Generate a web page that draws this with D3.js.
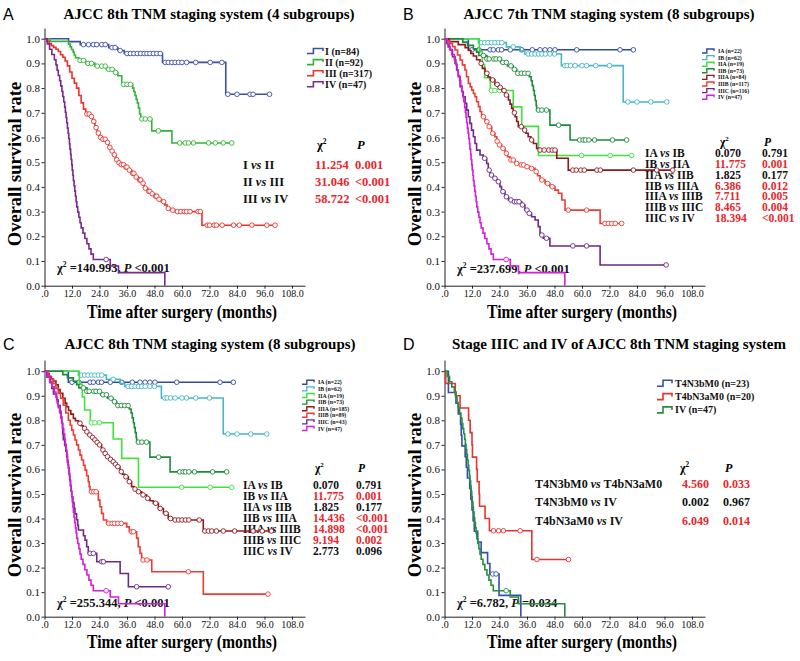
<!DOCTYPE html>
<html><head><meta charset="utf-8">
<script src="https://cdn.jsdelivr.net/npm/d3@7"></script>
<style>body{margin:0;background:#fff}</style></head>
<body><svg id="c" width="800" height="661"></svg>
<script>
// ---------------- DATA ----------------
const xTicks = [0,12,24,36,48,60,72,84,96,108];
const yTicks = [0,0.1,0.2,0.3,0.4,0.5,0.6,0.7,0.8,0.9,1.0];

// Panel A (AJCC 8th, 4 subgroups)
const stageI_steps = [[0,1],[10.5,0.988],[15.6,0.976],[28,0.964],[32,0.952],[34.8,0.94],[51.5,0.904],[79.1,0.775]];
const stageI_cens = [17,19.2,21.3,22.8,25,26.5,29.5,30.8,33,36,37.5,39,40.5,42,43.5,44.7,46,47.5,49,50.5,52.7,54,55.6,57,58.5,60,62,66,72.3,77.4,80,84,89.7,91,98.2];
const stageII_steps = [[0,1],[2.5,0.989],[10.5,0.978],[11.2,0.967],[11.8,0.956],[12.5,0.945],[13,0.934],[13.5,0.923],[15,0.912],[18,0.9],[22,0.889],[27,0.876],[30.5,0.863],[32,0.85],[33.7,0.815],[38.5,0.8],[39,0.785],[39.5,0.77],[40,0.755],[40.5,0.74],[41,0.72],[41.5,0.695],[42,0.675],[46.8,0.627],[55.6,0.578]];
const stageII_cens = [15.5,17,19,20.5,23,25,26.5,28,29.5,31,34.5,36,37.5,42.5,44,46,49.7,59,61.4,62.8,65,71.6,74.5,78,81.7];
const stageIII_steps = [[0,1],[1,0.99],[2,0.98],[3,0.972],[4,0.965],[5,0.957],[6,0.948],[7,0.935],[8,0.925],[9,0.91],[10,0.89],[11,0.865],[12,0.84],[13,0.82],[14,0.8],[15,0.77],[16,0.74],[17,0.715],[18,0.695],[20,0.685],[21,0.665],[22,0.64],[23,0.618],[24,0.6],[25,0.593],[27,0.58],[28,0.56],[29,0.545],[30,0.53],[31,0.51],[32,0.498],[33,0.49],[35,0.48],[36.5,0.468],[38,0.455],[39.5,0.44],[41,0.428],[42.5,0.415],[43.5,0.395],[45,0.382],[46.5,0.372],[48,0.362],[49.5,0.35],[51,0.34],[52.5,0.327],[53.5,0.313],[55,0.306],[57,0.3],[68.7,0.245]];
const stageIII_cens = [18.5,19.5,20.5,21.5,22.5,23.5,24.5,25.5,26.5,27.5,28.5,29.5,30.5,31.5,32.5,33.5,34.5,35.5,36,37,38.5,39,40,41.5,42,43,44,45.5,46,47,48.5,49,50,52,54,56,58,59.5,61,62,63.5,67,68,71,72,74,75,77.5,82.5,85,90.5,97,100.6];
const stageIV_steps = [[0,1],[1.2,0.979],[2.2,0.957],[3.2,0.936],[4.3,0.915],[5,0.894],[5.5,0.872],[6,0.851],[6.6,0.83],[7.1,0.809],[7.6,0.787],[8,0.766],[8.4,0.745],[8.8,0.723],[9.1,0.702],[9.4,0.681],[9.7,0.66],[10,0.638],[10.3,0.617],[10.6,0.596],[10.9,0.574],[11.1,0.553],[11.4,0.532],[11.6,0.511],[11.9,0.489],[12.1,0.468],[12.4,0.447],[12.6,0.426],[12.9,0.404],[13.2,0.383],[13.5,0.362],[13.8,0.34],[14.1,0.319],[14.5,0.298],[15,0.277],[15.5,0.255],[16,0.234],[16.8,0.213],[17.6,0.191],[18.5,0.17],[19.4,0.149],[20.3,0.128],[21.3,0.106],[28.7,0.08],[32.3,0.053],[52.5,0]];
const stageIV_cens = [26.9];

// Panels B/C shared subgroups
const stageIA_steps = [[0,1],[10.4,0.955]];
const stageIA_cens = [12,15,19.9,21.3,23.5,24.9,28.7,33.7,38.3,41.7,43.9,46,48.2,57.7,76.6,82.4];
const stageIB_steps = [[0,1],[14.8,0.984],[27,0.967],[33,0.95],[35,0.938],[51,0.891],[78,0.744]];
const stageIB_cens = [16,17.5,19,20.5,22,23.5,25,30,36.5,38,39.5,41,42.5,44,46,48,52.5,53.5,55,57,60,62,66,72,80,84,90,97];
const stageIIA_steps = [[0,1],[15.2,0.947],[16.5,0.895],[17.5,0.842],[20,0.79],[30,0.724],[33.7,0.645],[41,0.527]];
const stageIIA_cens = [20.5,22,24,59.8,72.3,81.7];
const stageIIB_steps = [[0,1],[8,0.986],[10,0.973],[12.6,0.959],[14,0.945],[15,0.932],[18.5,0.918],[24.5,0.904],[27.5,0.89],[30,0.876],[31.5,0.86],[37,0.846],[37.8,0.83],[38.3,0.81],[38.8,0.79],[39.2,0.77],[39.6,0.75],[40,0.73],[40.2,0.711],[46,0.65],[54.8,0.59]];
const stageIIB_cens = [17,18.5,19.5,21.5,22.5,24,25.5,27,29,30.5,32,33.5,35,36.5,41,42.5,44.5,49.8,59,60.5,61.5,63,65.5,73.3,79.5];

// Panel B (AJCC 7th) stage III
const b7IIIA_steps = [[0,1],[2,0.988],[6,0.976],[9,0.964],[10.5,0.952],[11.5,0.94],[12.6,0.93],[14,0.915],[15.5,0.9],[16.5,0.88],[17.7,0.86],[19,0.845],[20,0.833],[22,0.815],[23.5,0.803],[25,0.79],[26.4,0.772],[27.9,0.752],[28.6,0.735],[29.3,0.718],[30,0.7],[30.8,0.684],[31.5,0.665],[32.2,0.644],[34.4,0.63],[35.5,0.617],[36.5,0.603],[37.7,0.59],[38.8,0.576],[40.2,0.556],[41.5,0.549],[49,0.516],[54,0.468]];
const b7IIIA_cens = [16,18.5,21,23,24.3,26,27,30.5,33.5,35,38,41.7,43.5,45.5,47,48.2,56,57.5,59.5,61,66.5,68,82.4,92.6,99.6];
const b7IIIB_steps = [[0,1],[1,0.99],[2.4,0.981],[3.5,0.968],[4.6,0.954],[5.7,0.934],[6.8,0.914],[7.8,0.894],[8.9,0.873],[9.6,0.846],[10.4,0.819],[11.2,0.805],[11.9,0.792],[12.6,0.778],[13.3,0.765],[14,0.745],[14.8,0.725],[15.5,0.705],[16.2,0.684],[17.7,0.664],[19.1,0.644],[20.6,0.617],[22,0.603],[22.8,0.585],[23.5,0.57],[24.9,0.556],[26.4,0.536],[27.5,0.522],[28.6,0.509],[30.8,0.495],[32.9,0.489],[35.1,0.482],[37.3,0.475],[39.5,0.462],[40.6,0.445],[41.7,0.428],[43.9,0.414],[46,0.401],[48.2,0.387],[49.7,0.374],[51.2,0.347],[52.6,0.306],[67.9,0.252]];
const b7IIIB_cens = [17,18.5,19.5,21,23,24,25.5,27,29,30,31.5,33.5,34.5,36,38,40,42.5,45,47,54,62,70,71.5,73,74.5,77.3];
const b7IIIC_steps = [[0,1],[0.9,0.981],[1.6,0.967],[2.4,0.954],[3.5,0.927],[4.6,0.9],[5.3,0.873],[6,0.846],[6.8,0.806],[7.5,0.785],[8.2,0.765],[9,0.738],[9.7,0.711],[10.4,0.684],[11.1,0.657],[11.8,0.63],[12.6,0.603],[13.3,0.576],[14,0.549],[15.5,0.529],[16.9,0.516],[18.4,0.495],[19.1,0.468],[19.9,0.448],[21.3,0.435],[22.8,0.421],[24.2,0.401],[24.9,0.381],[26.4,0.36],[27.9,0.347],[30,0.34],[33.7,0.327],[35.1,0.306],[36.6,0.293],[38,0.279],[39.5,0.266],[40.9,0.239],[41.7,0.205],[43.1,0.192],[46,0.161],[67.9,0.084]];
const b7IIIC_cens = [17.5,19.5,20.5,22,23.5,25.5,27,29,30.5,31.5,32.5,34,36,37,42.5,44.5,56,62,96.7];

// Panel C (AJCC 8th, 8 subgroups) stage III
const c8IIIA_steps = [[0,1],[1,0.99],[2,0.978],[3,0.968],[3.9,0.96],[5,0.945],[6,0.925],[6.8,0.91],[8,0.89],[9,0.87],[9.7,0.855],[10.5,0.84],[11.5,0.825],[12.6,0.808],[13.5,0.798],[14.8,0.788],[16,0.778],[16.9,0.767],[18,0.753],[19.1,0.74],[20.2,0.73],[21.3,0.72],[22.4,0.71],[23.5,0.7],[24.9,0.679],[26,0.665],[27.1,0.652],[28.2,0.641],[29.3,0.631],[30.4,0.621],[31.5,0.611],[32.9,0.591],[34,0.58],[35.1,0.57],[36.6,0.55],[38,0.53],[39.1,0.52],[40.2,0.509],[42.4,0.496],[44.6,0.482],[46,0.472],[47.5,0.462],[49.7,0.441],[51.9,0.421],[54,0.4],[56.2,0.394],[69.3,0.349]];
const c8IIIA_cens = [15.5,17.5,18.5,19.8,21,22,23,24,25.5,26.5,27.5,28.8,30,31,32,33.5,35.5,37,39.5,41,43,45,48.5,50.5,53,55,57,58.5,60,61.5,63,67.5,70,71.5,73,75,78,83,91,95,99];
const c8IIIB_steps = [[0,1],[1.7,0.978],[2.8,0.965],[3.9,0.95],[5,0.93],[6,0.91],[7,0.89],[8.2,0.862],[9.3,0.83],[10.4,0.8],[11.2,0.78],[11.9,0.76],[12.6,0.74],[13.3,0.72],[14,0.7],[14.8,0.679],[15.5,0.658],[16.2,0.638],[17,0.617],[17.7,0.597],[18.4,0.574],[19.1,0.55],[19.5,0.53],[19.9,0.509],[23.5,0.475],[24.2,0.448],[24.9,0.421],[25.7,0.394],[27.1,0.38],[35.9,0.366],[37,0.346],[40.2,0.32],[40.9,0.285],[41.7,0.258],[42.4,0.231],[46.8,0.183],[69.3,0.092]];
const c8IIIB_cens = [20.5,21.5,22.5,28,29.5,30.5,32,33.5,38,38.8,43,44.7,62.8,97.5];
const c8IIIC_steps = [[0,1],[1,0.977],[2.4,0.953],[3.2,0.93],[3.9,0.907],[5.3,0.884],[6,0.86],[6.8,0.837],[7.2,0.814],[7.5,0.791],[7.8,0.767],[8,0.744],[8.2,0.721],[8.8,0.698],[9.3,0.674],[9.7,0.651],[10,0.628],[10.4,0.605],[10.7,0.581],[11,0.558],[11.3,0.535],[11.6,0.512],[11.9,0.488],[12.4,0.465],[12.9,0.442],[13.3,0.419],[14,0.395],[14.5,0.372],[14.8,0.353],[17,0.33],[17.7,0.312],[18.4,0.285],[19.1,0.258],[22.8,0.224],[33,0.176],[36.6,0.122]];
const c8IIIC_cens = [19.9,21.3,24.9,25.7,40.2,54];

// Panel D
const t4n3b_steps = [[0,1],[1.7,0.913],[5,0.87],[6,0.826],[7,0.783],[7.3,0.739],[7.6,0.696],[9,0.652],[9.5,0.609],[10,0.565],[11,0.522],[11.5,0.478],[12,0.435],[12.5,0.391],[13,0.348],[14.5,0.304],[16,0.261],[18.8,0.217],[19.8,0.174],[23.8,0.087],[33.3,0]];
const t4n3b_cens = [21,22.5];
const t4bn3a_steps = [[0,1],[0.5,0.95],[4.7,0.9],[6.8,0.85],[10.5,0.8],[11.2,0.75],[12,0.7],[12.2,0.65],[14,0.6],[14.3,0.55],[15.1,0.5],[15.3,0.45],[17.7,0.4],[19.6,0.35],[38.1,0.233]];
const t4bn3a_cens = [21.4,23.6,25.7,33,40.3,54.1];

// Labels
const A_legend = ["I (n=84)","II (n=92)","III (n=317)","IV (n=47)"];
const B_legend = ["IA (n=22)","IB (n=62)","IIA (n=19)","IIB (n=73)","IIIA (n=84)","IIIB (n=117)","IIIC (n=116)","IV (n=47)"];
const C_legend = ["IA (n=22)","IB (n=62)","IIA (n=19)","IIB (n=73)","IIIA (n=185)","IIIB (n=89)","IIIC (n=43)","IV (n=47)"];
const D_legend = ["T4N3bM0 (n=23)","T4bN3aM0 (n=20)","IV (n=47)"];

const A_pairs = ["I vs II","II vs III","III vs IV"];
const A_chi = ["11.254","31.046","58.722"];
const A_p = ["0.001","<0.001","<0.001"];
const A_sig = [1,1,1];
const B_pairs = ["IA vs IB","IB vs IIA","IIA vs IIB","IIB vs IIIA","IIIA vs IIIB","IIIB vs IIIC","IIIC vs IV"];
const B_chi = ["0.070","11.775","1.825","6.386","7.711","8.465","18.394"];
const B_p = ["0.791","0.001","0.177","0.012","0.005","0.004","<0.001"];
const B_sig = [0,1,0,1,1,1,1];
const C_pairs = ["IA vs IB","IB vs IIA","IIA vs IIB","IIB vs IIIA","IIIA vs IIIB","IIIB vs IIIC","IIIC vs IV"];
const C_chi = ["0.070","11.775","1.825","14.436","14.898","9.194","2.773"];
const C_p = ["0.791","0.001","0.177","<0.001","<0.001","0.002","0.096"];
const C_sig = [0,1,0,1,1,1,0];
const D_pairs = ["T4N3bM0 vs T4bN3aM0","T4N3bM0 vs IV","T4bN3aM0 vs IV"];
const D_chi = ["4.560","0.002","6.049"];
const D_p = ["0.033","0.967","0.014"];
const D_sig = [1,0,1];

const overall = [["140.993","<0.001"],["237.699","<0.001"],["255.344","<0.001"],["6.782","=0.034"]];
const titles = ["AJCC 8th TNM staging system (4 subgroups)","AJCC 7th TNM staging system (8 subgroups)","AJCC 8th TNM staging system (8 subgroups)","Stage IIIC and IV of AJCC 8th TNM staging system"];
const letters = ["A","B","C","D"];

// ---------------- DRAW ----------------
const SERIF = "'Liberation Serif','Times New Roman',serif";
const RED = "#e8262b";
const svg = d3.select("#c");

function stepAt(steps, t){ let s = steps[0][1]; for (const p of steps){ if (p[0] <= t) s = p[1]; else break; } return s; }

function drawPanel(cfg){
  const g = svg.append("g").attr("transform", `translate(${cfg.ox},${cfg.oy})`);
  const xMax = 108*(cfg.xEnd-cfg.x0)/(cfg.x108-cfg.x0);
  const yMax = (cfg.y0-cfg.yTop)/(cfg.y0-cfg.y1);
  const x = d3.scaleLinear().domain([0,xMax]).range([cfg.x0,cfg.xEnd]);
  const y = d3.scaleLinear().domain([0,yMax]).range([cfg.y0,cfg.yTop]);

  // axes
  const ya = g.append("g").attr("transform",`translate(${cfg.x0},0)`)
    .call(d3.axisLeft(y).tickValues(yTicks).tickFormat(d3.format(".1f")).tickSize(3).tickSizeOuter(0).tickPadding(1.5));
  ya.selectAll("text").attr("font-family",SERIF).attr("font-size",11).attr("fill","#111");
  const xa = g.append("g").attr("transform",`translate(0,${cfg.y0})`)
    .call(d3.axisBottom(x).tickValues(xTicks).tickFormat(d=> d===0 ? ".0" : d3.format(".1f")(d)).tickSize(3).tickSizeOuter(0).tickPadding(1.5));
  xa.selectAll("text").attr("font-family",SERIF).attr("font-size",10).attr("fill","#111");
  g.selectAll(".domain, .tick line").attr("stroke","#222").attr("stroke-width",1);

  // titles
  g.append("text").attr("x",3).attr("y",20).attr("font-family","'Liberation Sans',Arial,sans-serif").attr("font-size",16).text(cfg.letter);
  g.append("text").attr("x",cfg.titleX).attr("y",18.5).attr("text-anchor","middle").attr("font-family",SERIF).attr("font-weight","bold").attr("font-size",15).text(cfg.title);
  g.append("text").attr("transform",`translate(20.5,${cfg.yLabelY}) rotate(-90)`).attr("text-anchor","middle").attr("font-family",SERIF).attr("font-weight","bold").attr("font-size",18.5).text("Overall survival rate");
  g.append("text").attr("x",182).attr("y",318).attr("text-anchor","middle").attr("font-family",SERIF).attr("font-weight","bold").attr("font-size",19)
    .attr("textLength",190).attr("lengthAdjust","spacingAndGlyphs").text("Time after surgery (months)");

  // stats table
  const st = cfg.stats;
  const hdr = g.append("text").attr("x",st.cx).attr("y",st.hy).attr("font-family",SERIF).attr("font-weight","bold").attr("font-size",st.fs);
  hdr.append("tspan").text("χ");
  hdr.append("tspan").attr("dy",-5).attr("font-size",st.fs*0.6).text("2");
  g.append("text").attr("x",st.px+2).attr("y",st.hy).attr("font-family",SERIF).attr("font-weight","bold").attr("font-style","italic").attr("font-size",st.fs).text("P");
  st.pairs.forEach((pr,i)=>{
    const yy = st.ry + i*st.dy;
    const parts = pr.split(" vs ");
    const t = g.append("text").attr("x",st.lx).attr("y",yy).attr("font-family",SERIF).attr("font-weight","bold").attr("font-size",st.fs).attr("fill","#111");
    t.append("tspan").text(parts[0]+" ");
    t.append("tspan").attr("font-style","italic").text("vs");
    t.append("tspan").text(" "+parts[1]);
    const col = st.sig[i] ? RED : "#111";
    g.append("text").attr("x",st.vx).attr("y",yy).attr("font-family",SERIF).attr("font-weight","bold").attr("font-size",st.fs).attr("fill",col).text(st.chi[i]);
    g.append("text").attr("x",st.px).attr("y",yy).attr("font-family",SERIF).attr("font-weight","bold").attr("font-size",st.fs).attr("fill",col).text(st.p[i]);
  });

  // overall test
  const ov = g.append("text").attr("x",57).attr("y",cfg.ovY).attr("font-family",SERIF).attr("font-weight","bold").attr("font-size",12.5).attr("fill","#111");
  ov.append("tspan").text("χ");
  ov.append("tspan").attr("dy",-5).attr("font-size",7.5).text("2");
  ov.append("tspan").attr("dy",5).text(" =" + cfg.overall[0] + ", ");
  ov.append("tspan").attr("font-style","italic").text("P");
  ov.append("tspan").text(" " + cfg.overall[1]);

  // legend
  const lg = cfg.legend;
  lg.labels.forEach((lab,i)=>{
    const cy = lg.y + i*lg.dy;
    const w = lg.w, h = lg.h, x0 = lg.x;
    g.append("path").attr("d",`M${x0},${cy+h/2} H${x0+w*0.4} V${cy-h/2} H${x0+w} V${cy}`)
      .attr("fill","none").attr("stroke",cfg.series[i].color).attr("stroke-width",lg.sw);
    g.append("text").attr("x",lg.tx).attr("y",cy+lg.fs*0.35).attr("font-family",SERIF).attr("font-weight","bold").attr("font-size",lg.fs).attr("fill","#111").text(lab);
  });

  // curves
  const line = d3.line().x(d=>x(d[0])).y(d=>y(d[1])).curve(d3.curveStepAfter);
  cfg.series.forEach(s=>{
    const pts = s.steps.slice();
    const last = pts[pts.length-1];
    const end = s.cens.length ? Math.max(d3.max(s.cens), last[0]) : last[0];
    if (end > last[0]) pts.push([end,last[1]]);
    g.append("path").attr("d",line(pts)).attr("fill","none").attr("stroke",s.color).attr("stroke-width",1.6);
    g.selectAll(null).data(s.cens).enter().append("circle")
      .attr("cx",d=>x(d)).attr("cy",d=>y(stepAt(s.steps,d))).attr("r",2.3)
      .attr("fill","#fff").attr("stroke",s.color).attr("stroke-width",0.9);
  });
}

const geomTop = {x0:44.5, x108:292, xEnd:305, y0:285.7, y1:38.7, yTop:28};
const geomBot = {x0:44.5, x108:292, xEnd:305, y0:286.7, y1:41.2, yTop:30};
const c8 = {IA:"#2f4a9e", IB:"#4ab5c4", IIA:"#3ee33e", IIB:"#1f8a3c", IIIA:"#8e1a1f", IIIB:"#ef3b36", IIIC:"#6a2a86", IV:"#d61fd8"};

drawPanel(Object.assign({ox:0, oy:0, letter:letters[0], title:titles[0], titleX:209, yLabelY:164, ovY:272, overall:overall[0],
  stats:{pairs:A_pairs, chi:A_chi, p:A_p, sig:A_sig, fs:12.5, cx:317, px:355, vx:315, lx:243, hy:149, ry:168.5, dy:17.3},
  legend:{labels:A_legend, x:307, w:16, h:5, sw:1.6, tx:325, y:51, dy:11.1, fs:10},
  series:[
    {steps:stageI_steps, cens:stageI_cens, color:"#3b4fa8"},
    {steps:stageII_steps, cens:stageII_cens, color:"#33b33a"},
    {steps:stageIII_steps, cens:stageIII_cens, color:"#e8332f"},
    {steps:stageIV_steps, cens:stageIV_cens, color:"#7a2a8c"}]}, geomTop));

drawPanel(Object.assign({ox:400, oy:0, letter:letters[1], title:titles[1], titleX:209, yLabelY:164, ovY:272.5, overall:overall[1],
  stats:{pairs:B_pairs, chi:B_chi, p:B_p, sig:B_sig, fs:11.5, cx:320, px:362, vx:315, lx:245, hy:146, ry:157, dy:10.85},
  legend:{labels:B_legend, x:302, w:12, h:4, sw:1.4, tx:318, y:51, dy:6.6, fs:5.8},
  series:[
    {steps:stageIA_steps, cens:stageIA_cens, color:c8.IA},
    {steps:stageIB_steps, cens:stageIB_cens, color:c8.IB},
    {steps:stageIIA_steps, cens:stageIIA_cens, color:c8.IIA},
    {steps:stageIIB_steps, cens:stageIIB_cens, color:c8.IIB},
    {steps:b7IIIA_steps, cens:b7IIIA_cens, color:c8.IIIA},
    {steps:b7IIIB_steps, cens:b7IIIB_cens, color:c8.IIIB},
    {steps:b7IIIC_steps, cens:b7IIIC_cens, color:c8.IIIC},
    {steps:stageIV_steps, cens:stageIV_cens, color:c8.IV}]}, geomTop));

drawPanel(Object.assign({ox:0, oy:330, letter:letters[2], title:titles[2], titleX:210, yLabelY:165, ovY:276.5, overall:overall[2],
  stats:{pairs:C_pairs, chi:C_chi, p:C_p, sig:C_sig, fs:11.5, cx:315, px:356, vx:313, lx:243, hy:141.5, ry:158.5, dy:11.1},
  legend:{labels:C_legend, x:302, w:12, h:4, sw:1.4, tx:318, y:52.3, dy:6.6, fs:5.8},
  series:[
    {steps:stageIA_steps, cens:stageIA_cens, color:c8.IA},
    {steps:stageIB_steps, cens:stageIB_cens, color:c8.IB},
    {steps:stageIIA_steps, cens:stageIIA_cens, color:c8.IIA},
    {steps:stageIIB_steps, cens:stageIIB_cens, color:c8.IIB},
    {steps:c8IIIA_steps, cens:c8IIIA_cens, color:c8.IIIA},
    {steps:c8IIIB_steps, cens:c8IIIB_cens, color:c8.IIIB},
    {steps:c8IIIC_steps, cens:c8IIIC_cens, color:c8.IIIC},
    {steps:stageIV_steps, cens:stageIV_cens, color:c8.IV}]}, geomBot));

drawPanel(Object.assign({ox:400, oy:330, letter:letters[3], title:titles[3], titleX:219, yLabelY:165, ovY:276.5, overall:overall[3],
  stats:{pairs:D_pairs, chi:D_chi, p:D_p, sig:D_sig, fs:12, cx:280, px:323, vx:282, lx:135, hy:142, ry:158, dy:18.3},
  legend:{labels:D_legend, x:257, w:15, h:6, sw:1.6, tx:275, y:53.3, dy:13.3, fs:10},
  series:[
    {steps:t4n3b_steps, cens:t4n3b_cens, color:"#3050b4"},
    {steps:t4bn3a_steps, cens:t4bn3a_cens, color:"#e8332f"},
    {steps:stageIV_steps, cens:stageIV_cens, color:"#2b8c3e"}]}, geomBot));
</script></body></html>
